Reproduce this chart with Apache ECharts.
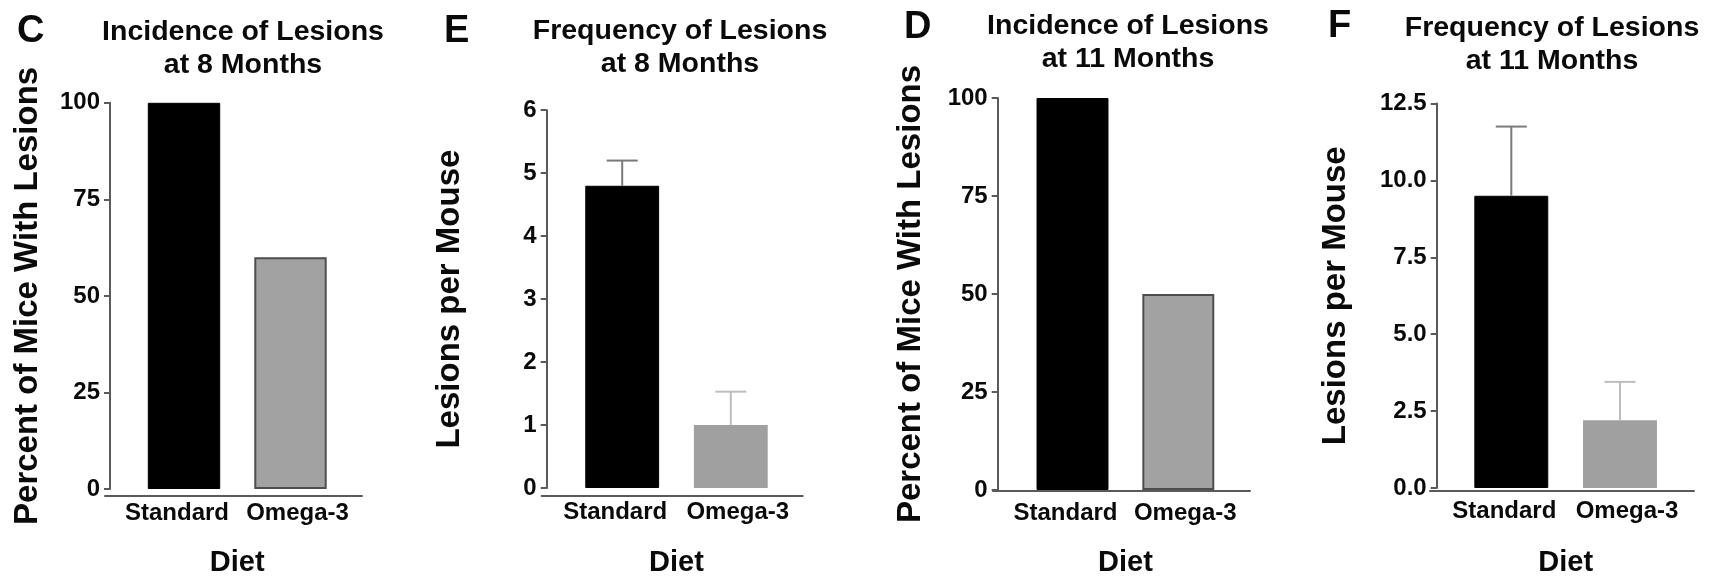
<!DOCTYPE html>
<html>
<head>
<meta charset="utf-8">
<title>Lesions by Diet</title>
<script src="https://cdn.jsdelivr.net/npm/echarts@6/dist/echarts.min.js"></script>
<style>
  html, body { margin: 0; padding: 0; background: #fff; }
  #chart { width: 1719px; height: 582px; }
</style>
</head>
<body>
<div id="chart"></div>
<script>
// Diet groups
const categories = ['Standard', 'Omega-3'];

// Percent of mice with lesions
const incidence8 = [100, 60];
const incidence11 = [100, 50];

// Lesions per mouse (mean and SEM)
const lesions8 = [4.8, 1.0];
const lesions8Sem = [0.4, 0.53];
const lesions11 = [9.5, 2.2];
const lesions11Sem = [2.25, 1.25];

// Y-axis tick labels
const incidenceTicks = ['0', '25', '50', '75', '100'];
const lesions8Ticks = ['0', '1', '2', '3', '4', '5', '6'];
const lesions11Ticks = ['0.0', '2.5', '5.0', '7.5', '10.0', '12.5'];

const FONT = 'Liberation Sans';
const INK = '#0a0a0a';
const AXIS = '#5a5a5a';

// Panel layout: axis positions in px
const panels = [
  { letter: 'C', title: 'Incidence of Lesions\nat 8 Months', yName: 'Percent of Mice With Lesions',
    values: incidence8, sem: null, ticks: incidenceTicks, omegaBorder: true,
    axisX: 110, lineL: 105, lineR: 362, barL: 130.75, barW: 213, top: 102.8, bottom: 495.4,
    titleX: 238, titleTop: 11, letterX: 12, letterTop: 8, nameGap: 66, labelMargin: 12, dietGap: 59 },
  { letter: 'E', title: 'Frequency of Lesions\nat 8 Months', yName: 'Lesions per Mouse',
    values: lesions8, sem: lesions8Sem, ticks: lesions8Ticks, omegaBorder: false,
    axisX: 546.7, lineL: 541.7, lineR: 802.7, barL: 567.9, barW: 217.2, top: 110.2, bottom: 495.4,
    titleX: 675, titleTop: 10, letterX: 439, letterTop: 8, nameGap: 80, labelMargin: 12, dietGap: 60 },
  { letter: 'D', title: 'Incidence of Lesions\nat 11 Months', yName: 'Percent of Mice With Lesions',
    values: incidence11, sem: null, ticks: incidenceTicks, omegaBorder: true,
    axisX: 997.7, lineL: 993, lineR: 1250, barL: 1019.6, barW: 211.6, top: 98, bottom: 490.9,
    titleX: 1123, titleTop: 5, letterX: 899, letterTop: 4, nameGap: 70, labelMargin: 11, dietGap: 58 },
  { letter: 'F', title: 'Frequency of Lesions\nat 11 Months', yName: 'Lesions per Mouse',
    values: lesions11, sem: lesions11Sem, ticks: lesions11Ticks, omegaBorder: false,
    axisX: 1436.7, lineL: 1430, lineR: 1694, barL: 1456.95, barW: 217.4, top: 103.5, bottom: 490.9,
    titleX: 1547, titleTop: 7, letterX: 1323, letterTop: 3, nameGap: 84, labelMargin: 11, dietGap: 60 }
];

const grid = [], xAxis = [], yAxis = [], series = [], title = [];

const catLabelStyle = { color: INK, fontFamily: FONT, fontWeight: 'bold', fontSize: 24 };

panels.forEach((p, k) => {
  const tickVals = p.ticks.map(Number);
  const yMin = tickVals[0];
  const yMax = tickVals[tickVals.length - 1];
  const step = tickVals[1] - tickVals[0];
  const height = p.bottom - p.top;
  const lineIdx = k * 2;       // grid carrying the long baseline
  const barIdx = k * 2 + 1;    // grid carrying bars, labels and y axis

  // baseline grid
  grid.push({ left: p.lineL, top: p.top, width: p.lineR - p.lineL, height: height });
  xAxis.push({
    gridIndex: lineIdx, type: 'category', data: [''],
    axisLine: { show: true, lineStyle: { color: AXIS, width: 2 } },
    axisTick: { show: false }, axisLabel: { show: false }, splitLine: { show: false }
  });
  yAxis.push({ gridIndex: lineIdx, type: 'value', min: yMin, max: yMax, show: false });

  // bar grid
  grid.push({ left: p.barL, top: p.top, width: p.barW, height: height });
  xAxis.push({
    gridIndex: barIdx, type: 'category', data: categories,
    axisLine: { show: false }, axisTick: { show: false },
    axisLabel: {
      interval: 0, margin: p.labelMargin,
      // spread the two group labels slightly apart
      formatter: (v, i) => (i === 0 ? '{l|' + v + '}' : '{r|' + v + '}'),
      rich: {
        l: Object.assign({ padding: [0, 14, 0, 0] }, catLabelStyle),
        r: Object.assign({ padding: [0, 0, 0, 14] }, catLabelStyle)
      }
    },
    name: 'Diet', nameLocation: 'middle', nameGap: p.dietGap,
    nameTextStyle: { color: INK, fontFamily: FONT, fontWeight: 'bold', fontSize: 29 }
  });
  yAxis.push({
    gridIndex: barIdx, type: 'value', min: yMin, max: yMax, interval: step,
    offset: p.barL - p.axisX,
    axisLine: { show: true, lineStyle: { color: AXIS, width: 2 } },
    axisTick: { show: true, length: 6, lineStyle: { color: AXIS, width: 2 } },
    splitLine: { show: false },
    axisLabel: {
      color: INK, fontFamily: FONT, fontWeight: 'bold', fontSize: 24, margin: 10,
      formatter: v => {
        const i = tickVals.findIndex(t => Math.abs(t - v) < 1e-9);
        return i >= 0 ? p.ticks[i] : '';
      }
    },
    name: p.yName, nameLocation: 'middle', nameGap: p.nameGap,
    nameTextStyle: { color: INK, fontFamily: FONT, fontWeight: 'bold', fontSize: 33 }
  });

  series.push({
    type: 'bar', xAxisIndex: barIdx, yAxisIndex: barIdx, barWidth: '68%',
    data: p.values.map((v, i) => ({
      value: v,
      itemStyle: i === 0
        ? { color: '#000', borderColor: '#000', borderWidth: 1 }
        : (p.omegaBorder
            ? { color: '#a2a2a2', borderColor: '#4e4e4e', borderWidth: 2 }
            : { color: '#a0a0a0', borderColor: '#a0a0a0', borderWidth: 0 })
    })),
    z: 2,
    silent: true
  });

  if (p.sem) {
    const errColors = ['#7a7a7a', '#bdbdbd'];
    series.push({
      type: 'custom', xAxisIndex: barIdx, yAxisIndex: barIdx, z: 3, silent: true,
      data: p.values.map((v, i) => [i, v, v + p.sem[i]]),
      renderItem: (params, api) => {
        const base = api.coord([api.value(0), api.value(1)]);
        const tip = api.coord([api.value(0), api.value(2)]);
        const half = 15.5;
        const style = { stroke: errColors[params.dataIndex], lineWidth: 2 };
        return {
          type: 'group',
          children: [
            { type: 'line', shape: { x1: base[0], y1: base[1], x2: tip[0], y2: tip[1] }, style },
            { type: 'line', shape: { x1: tip[0] - half, y1: tip[1], x2: tip[0] + half, y2: tip[1] }, style }
          ]
        };
      }
    });
  }

  title.push({
    text: p.title, left: p.titleX, top: p.titleTop, textAlign: 'center',
    textStyle: { color: INK, fontFamily: FONT, fontWeight: 'bold', fontSize: 28.5, lineHeight: 33 }
  });
  title.push({
    text: p.letter, left: p.letterX, top: p.letterTop,
    textStyle: { color: INK, fontFamily: FONT, fontWeight: 'bold', fontSize: 38 }
  });
});

const chart = echarts.init(document.getElementById('chart'), null, { renderer: 'canvas' });
chart.setOption({
  backgroundColor: '#fff',
  animation: false,
  title, grid, xAxis, yAxis, series
});
</script>
</body>
</html>
